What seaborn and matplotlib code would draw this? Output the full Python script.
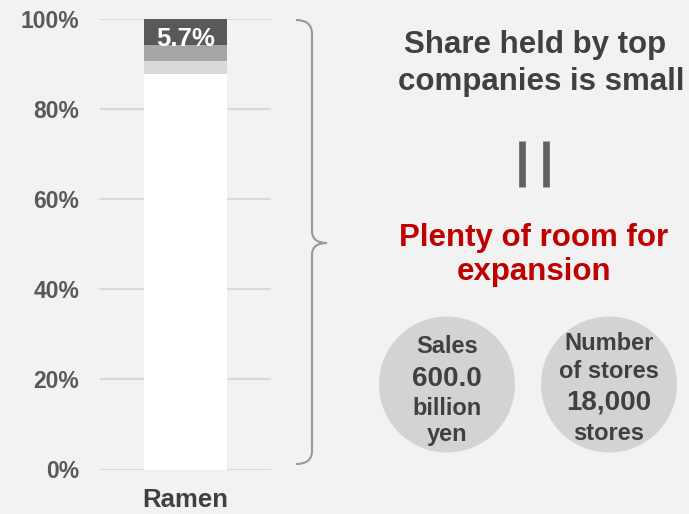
import numpy as np
import pandas as pd
import seaborn as sns
import matplotlib.pyplot as plt
from matplotlib.patches import Circle, PathPatch
from matplotlib.path import Path

# data
category = ["Ramen"]
segments = ["Rest of market", "3rd company", "2nd company", "Top company"]
shares = [87.8, 2.8, 3.7, 5.7]
seg_colors = ["#ffffff", "#d9d9d9", "#a6a6a6", "#595959"]
top_label = "5.7%"
yticks = [0, 20, 40, 60, 80, 100]

sns.set_style("white")
plt.rcParams['font.family'] = ['Liberation Sans', 'DejaVu Sans']
plt.rcParams['font.weight'] = 'bold'

bg = "#f2f2f2"
fig = plt.figure(figsize=(6.89, 5.14), dpi=100, facecolor=bg)
ax = fig.add_axes([100 / 689, 44.5 / 514, 171 / 689, 450.5 / 514])
ax.set_facecolor(bg)

cum = np.cumsum(shares)
df = pd.DataFrame({"cat": category * len(segments), "seg": segments, "top": cum})
# draw tallest first so the shorter stacks sit in front
for i in range(len(segments) - 1, -1, -1):
    sns.barplot(data=df.iloc[[i]], x="cat", y="top", color=seg_colors[i],
                width=0.48, saturation=1, linewidth=0, ax=ax, zorder=2)

ax.set_ylim(0, 100)
ax.set_xlim(-0.5, 0.5)
ax.set_yticks(yticks)
ax.set_yticklabels([f"{t}%" for t in yticks], fontsize=16.5, color="#595959",
                   fontweight="bold")
ax.set_xticks([0])
ax.set_xticklabels(category, fontsize=18.5, color="#404040", fontweight="bold")
ax.tick_params(axis="y", length=0, pad=15)
ax.tick_params(axis="x", length=0, pad=13)
ax.set_xlabel("")
ax.set_ylabel("")
ax.yaxis.grid(True, color="#d9d9d9", linewidth=1.5, zorder=0)
ax.set_axisbelow(True)
for s in ax.spines.values():
    s.set_visible(False)

# label sits low in the top segment, baseline just under its bottom edge
ax.text(0, cum[-2] - 0.2, top_label, ha="center", va="baseline",
        color="white", fontsize=18.5, fontweight="bold", zorder=5)

# overlay in pixel coordinates for the annotations
ov = fig.add_axes([0, 0, 1, 1])
ov.set_xlim(0, 689)
ov.set_ylim(514, 0)
ov.axis("off")
ov.patch.set_alpha(0)

# brace
verts = [(296, 20), (312, 20), (312, 34), (312, 231), (312, 243), (327, 243),
         (312, 243), (312, 255), (312, 451), (312, 464), (296, 464)]
codes = [Path.MOVETO, Path.CURVE3, Path.CURVE3, Path.LINETO, Path.CURVE3, Path.CURVE3,
         Path.CURVE3, Path.CURVE3, Path.LINETO, Path.CURVE3, Path.CURVE3]
ov.add_patch(PathPatch(Path(verts, codes), fill=False, edgecolor="#999999", linewidth=1.5))

dark = "#404040"
ov.text(535, 53, "Share held by top", ha="center", va="baseline", fontsize=22.5,
        color=dark, fontweight="bold")
ov.text(541, 90, "companies is small", ha="center", va="baseline", fontsize=22.5,
        color=dark, fontweight="bold")

for x in (522.2, 545.6):
    ov.plot([x, x], [140.5, 187], color="#606060", linewidth=4.8, solid_capstyle="butt")

red = "#c00000"
ov.text(534, 246, "Plenty of room for", ha="center", va="baseline", fontsize=22.5,
        color=red, fontweight="bold")
ov.text(534, 280, "expansion", ha="center", va="baseline", fontsize=22.5,
        color=red, fontweight="bold")

circle_color = "#d3d3d3"
ov.add_patch(Circle((447, 384.5), 68, facecolor=circle_color, edgecolor="none"))
ov.add_patch(Circle((609, 384.5), 68, facecolor=circle_color, edgecolor="none"))

for txt, y, fs in [("Sales", 353, 17), ("600.0", 386, 20), ("billion", 415, 17), ("yen", 441, 17)]:
    ov.text(447, y, txt, ha="center", va="baseline", fontsize=fs, color=dark, fontweight="bold")
for txt, y, fs in [("Number", 350, 17), ("of stores", 378, 17), ("18,000", 410, 20), ("stores", 440, 17)]:
    ov.text(609, y, txt, ha="center", va="baseline", fontsize=fs, color=dark, fontweight="bold")

fig.savefig("out.png", dpi=100, facecolor=bg)
